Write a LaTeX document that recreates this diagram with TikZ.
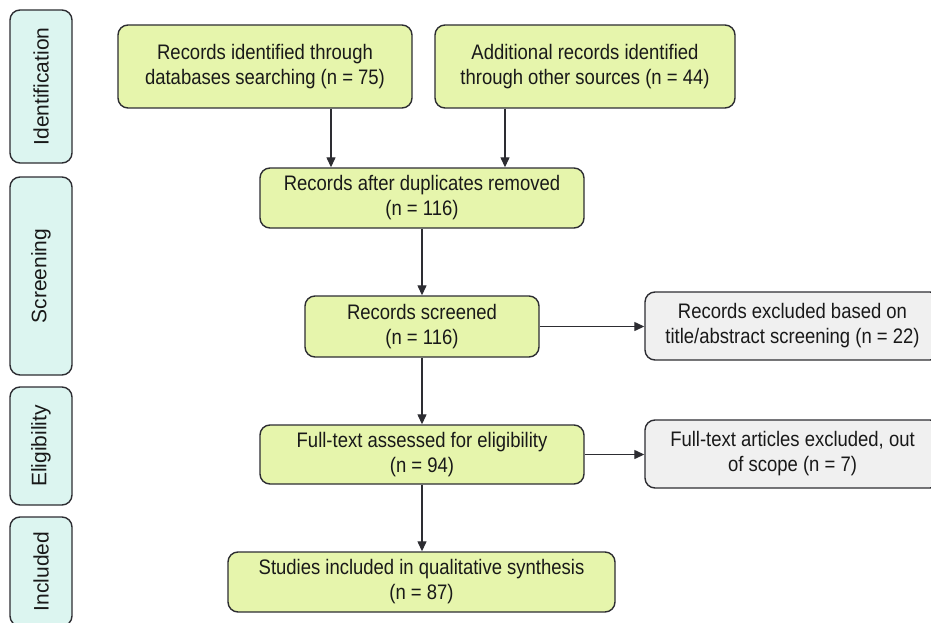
\documentclass[tikz,border=0pt]{standalone}
\usepackage{fontspec}
\setmainfont{Liberation Sans}
\newfontfamily\boxfont{Liberation Sans}[FakeStretch=0.88]
\usetikzlibrary{arrows.meta}
\definecolor{greenfill}{RGB}{230,245,172}
\definecolor{sidefill}{RGB}{220,245,240}
\definecolor{grayfill}{RGB}{240,240,240}
\definecolor{edgecol}{RGB}{45,45,50}
\definecolor{txtcol}{RGB}{25,25,25}
\begin{document}
\begin{tikzpicture}[x=1pt,y=-1pt,
  box/.style={draw=edgecol, line width=1.4pt, rounded corners=10pt, align=center,
    text=txtcol, font=\boxfont\fontsize{21}{25}\selectfont, inner sep=0pt},
  gbox/.style={box, fill=greenfill},
  xbox/.style={box, fill=grayfill},
  side/.style={box, fill=sidefill, font=\fontsize{21}{25}\selectfont, rotate=90, minimum height=62pt},
  arr/.style={draw=edgecol, line width=1.3pt, -{Triangle[length=10pt,width=9pt]}}]
\useasboundingbox (0,0) rectangle (931,623);
% side labels
\node[side, minimum width=153pt] (sid) at (41,86.5) {Identification};
\node[side, minimum width=198pt] (scr) at (41,276) {Screening};
\node[side, minimum width=118pt] (eli) at (41,446) {Eligibility};
\node[side, minimum width=109pt] (inc) at (41,571.5) {Included};
% main boxes
\node[gbox, minimum width=294pt, minimum height=83pt] (b1) at (265,66.5)
  {Records identified through\\databases searching (n = 75)};
\node[gbox, minimum width=300pt, minimum height=83pt] (b2) at (585,66.5)
  {Additional records identified\\through other sources (n = 44)};
\node[gbox, minimum width=324pt, minimum height=60pt] (b3) at (422,198)
  {Records after duplicates removed\\(n = 116)};
\node[gbox, minimum width=234pt, minimum height=61pt] (b4) at (422,326.5)
  {Records screened\\(n = 116)};
\node[xbox, minimum width=295pt, minimum height=68pt] (b5) at (792.5,326)
  {Records excluded based on\\title/abstract screening (n = 22)};
\node[gbox, minimum width=324pt, minimum height=59pt] (b6) at (422,454.5)
  {Full-text assessed for eligibility\\(n = 94)};
\node[xbox, minimum width=295pt, minimum height=68pt] (b7) at (792.5,454)
  {Full-text articles excluded, out\\of scope (n = 7)};
\node[gbox, minimum width=387pt, minimum height=60pt] (b8) at (421.5,582)
  {Studies included in qualitative synthesis\\(n = 87)};
% connectors
\coordinate (c1) at (331,0);
\coordinate (c2) at (505,0);
\draw[arr] (b1.south -| c1) -- (b3.north -| c1);
\draw[arr] (b2.south -| c2) -- (b3.north -| c2);
\draw[arr] (b3.south) -- (b4.north);
\draw[arr] (b4.east) -- (b4.east -| b5.west);
\draw[arr] (b4.south) -- (b6.north);
\draw[arr] (b6.east) -- (b6.east -| b7.west);
\draw[arr] (b6.south) -- (b6.south |- b8.north);
\end{tikzpicture}
\end{document}
